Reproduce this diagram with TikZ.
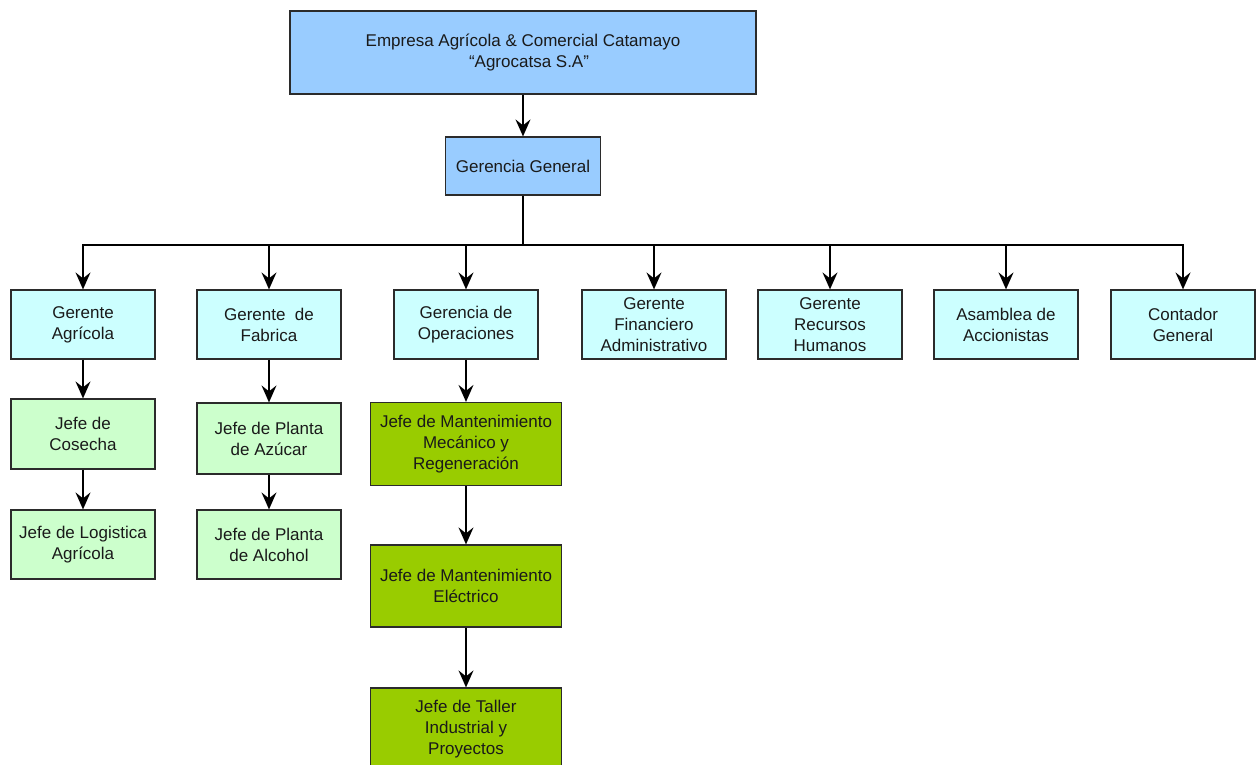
\documentclass[tikz,border=0pt]{standalone}
\usepackage{fontspec}
\setmainfont{Liberation Sans}
\usetikzlibrary{arrows.meta}
\definecolor{topblue}{HTML}{99CCFF}
\definecolor{cyanbox}{HTML}{CCFFFF}
\definecolor{lgreen}{HTML}{CCFFCC}
\definecolor{dgreen}{HTML}{99CC00}
\definecolor{edge}{HTML}{2B2B2B}
\definecolor{txt}{HTML}{1A1A1A}
\tikzset{
  box/.style={draw=edge, line width=1.2pt, rectangle, align=center, inner sep=2pt,
    text=txt, font=\fontsize{17}{21}\selectfont},
  topbox/.style={box, fill=topblue},
  lvtwo/.style={box, fill=cyanbox, minimum width=144pt, minimum height=69pt},
  lvthree/.style={box, fill=lgreen, minimum width=144pt},
  opbox/.style={box, fill=dgreen, minimum width=191pt, minimum height=82pt},
  arr/.style={draw=black, line width=1.6pt, -{Stealth[length=17pt,width=15pt,inset=6pt]}},
  ln/.style={draw=black, line width=1.6pt}
}
\begin{document}
\begin{tikzpicture}[x=1pt,y=-1pt]
\useasboundingbox (0,0) rectangle (1256,765);
\clip (0,0) rectangle (1256,765);
\fill[white] (0,0) rectangle (1256,765);

\node[topbox, minimum width=466pt, minimum height=83pt] (top) at (523,52.5)
  {Empresa Agrícola \& Comercial Catamayo\\\hspace*{12pt}“Agrocatsa S.A"};
\node[topbox, minimum width=155pt, minimum height=58pt] (gg) at (523,166) {Gerencia General};

\node[lvtwo] (ga)  at (83,324.5)   {Gerente\\Agrícola};
\node[lvtwo] (gf)  at (269,324.5)  {Gerente\ \ de\\Fabrica};
\node[lvtwo] (go)  at (466,324.5)  {Gerencia de\\Operaciones};
\node[lvtwo] (gfa) at (654,324.5)  {Gerente\\Financiero\\Administrativo};
\node[lvtwo] (grh) at (830,324.5)  {Gerente\\Recursos\\Humanos};
\node[lvtwo] (aa)  at (1006,324.5) {Asamblea de\\Accionistas};
\node[lvtwo] (cg)  at (1183,324.5) {Contador\\General};

\node[lvthree, minimum height=70pt] (jc)  at (83,434)    {Jefe de\\Cosecha};
\node[lvthree, minimum height=69pt] (jl)  at (83,544.5)  {Jefe de Logistica\\Agrícola};
\node[lvthree, minimum height=71pt] (jpa) at (269,438.5) {Jefe de Planta\\de Azúcar};
\node[lvthree, minimum height=69pt] (jpl) at (269,544.5) {Jefe de Planta\\de Alcohol};

\node[opbox, minimum height=83pt] (jmm) at (466,444) {Jefe de Mantenimiento\\Mecánico y\\Regeneración};
\node[opbox] (jme) at (466,586) {Jefe de Mantenimiento\\Eléctrico};
\node[opbox] (jt)  at (466,729) {Jefe de Taller\\Industrial y\\Proyectos};

\coordinate (bus) at (523,245);

\draw[arr] (top) -- (gg);
\draw[ln] (gg.south) -- (bus);
\foreach \n in {ga,gf,go,gfa,grh,aa,cg}{
  \draw[arr] (bus) -| (\n.north);
}
\draw[arr] (ga) -- (jc);
\draw[arr] (jc) -- (jl);
\draw[arr] (gf) -- (jpa);
\draw[arr] (jpa) -- (jpl);
\draw[arr] (go) -- (jmm);
\draw[arr] (jmm) -- (jme);
\draw[arr] (jme) -- (jt);
\end{tikzpicture}
\end{document}
